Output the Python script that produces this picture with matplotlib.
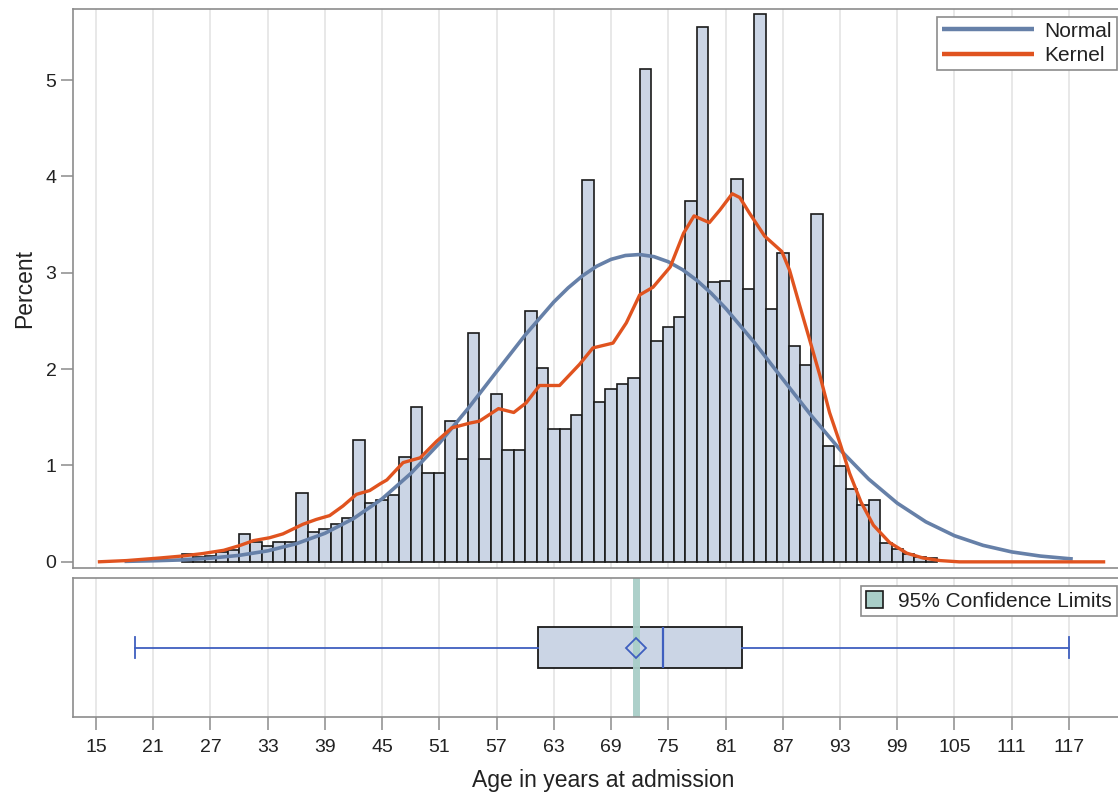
import numpy as np
import matplotlib
matplotlib.use("Agg")
import matplotlib.pyplot as plt
from matplotlib.patches import Patch

plt.rcParams['font.family'] = ['Liberation Sans', 'DejaVu Sans']

# histogram: percent of admissions per 1.2-year bin, first bin starts at 24.0
bin_start = 24.0
bin_width = 1.2
pct = [0.08, 0.05, 0.06, 0.10, 0.12, 0.29, 0.21, 0.16, 0.21, 0.21,
       0.71, 0.31, 0.34, 0.39, 0.46, 1.26, 0.61,
       0.64, 0.69, 1.09, 1.61, 0.92, 0.92, 1.46, 1.07, 2.37, 1.07,
       1.74, 1.16, 1.16, 2.60, 2.01, 1.38, 1.38,
       1.52, 3.96, 1.66, 1.79, 1.85, 1.91, 5.11, 2.29, 2.44, 2.54,
       3.74, 5.55, 2.90, 2.91, 3.97, 2.83, 5.68, 2.62, 3.21, 2.24, 2.04, 3.61,
       1.20, 0.99, 0.76, 0.59, 0.64, 0.20, 0.13, 0.08, 0.05, 0.04]

# fitted normal curve (percent scale)
normal_age = [18, 21, 24, 27, 30, 33, 36, 39, 42, 45, 48, 51, 54, 57, 60, 63,
              64.5, 66, 67.5, 69, 70.5, 72, 73.5, 75, 76.5, 78, 79.5, 81, 84,
              87, 90, 93, 96, 99, 102, 105, 108, 111, 114, 117, 117.4]
normal_pct = [0.005, 0.011, 0.020, 0.038, 0.067, 0.114, 0.188, 0.296, 0.449,
              0.654, 0.916, 1.231, 1.590, 1.974, 2.354, 2.697, 2.843, 2.968,
              3.068, 3.139, 3.179, 3.189, 3.167, 3.114, 3.031, 2.921, 2.787,
              2.632, 2.279, 1.896, 1.516, 1.164, 0.859, 0.609, 0.415, 0.271,
              0.171, 0.103, 0.060, 0.033, 0.030]

# kernel density estimate (percent scale)
kernel_age = [15.2, 18.2, 21.7, 24.0, 26.2, 28.4, 30.1, 31.5, 33.2, 34.6,
              36.7, 38.1, 39.5, 40.9, 42.3, 43.7, 44.8, 45.5, 47.2, 49.0,
              50.7, 52.3, 54.2, 55.2, 57.2, 58.8, 60.1, 61.5, 63.6, 65.7,
              67.1, 69.2, 70.6, 72.0, 73.4, 75.2, 76.6, 77.7, 79.3, 80.4,
              81.7, 82.5, 83.5, 85.1, 86.9, 87.7, 88.8, 89.8, 90.9, 91.9,
              93.0, 94.0, 95.2, 96.5, 98.2, 100.0, 101.7, 103.5, 105.5, 120.8]
kernel_pct = [0.0, 0.013, 0.04, 0.06, 0.086, 0.12, 0.17, 0.22, 0.25, 0.29,
              0.39, 0.44, 0.48, 0.58, 0.70, 0.74, 0.81, 0.85, 1.03, 1.08,
              1.25, 1.39, 1.44, 1.46, 1.59, 1.55, 1.65, 1.83, 1.83, 2.05,
              2.22, 2.27, 2.48, 2.77, 2.85, 3.06, 3.41, 3.59, 3.52, 3.65,
              3.82, 3.78, 3.62, 3.38, 3.22, 3.03, 2.65, 2.31, 1.93, 1.55,
              1.23, 0.92, 0.62, 0.38, 0.20, 0.09, 0.04, 0.013, 0.0, 0.0]

# box plot summary
age_min, age_q1, age_median, age_q3, age_max = 19.1, 61.3, 74.4, 82.7, 117.0
age_mean = 71.6
mean_ci = (71.25, 72.05)

xticks = list(range(15, 118, 6))

bar_face = '#cbd5e5'
edge_dark = '#1a1a1a'
normal_col = '#6680a8'
kernel_col = '#e0531f'
box_blue = '#3f5fbf'
ci_col = '#a9cec8'
grid_col = '#e4e4e4'
spine_col = '#8c8c8c'
text_col = '#222222'

W, H = 1118, 794
fig = plt.figure(figsize=(W / 100, H / 100), dpi=100)

left, right = 73.3, 1124.5
ax1 = fig.add_axes([left / W, 1 - 568.3 / H, (right - left) / W, (568.3 - 9) / H])
ax2 = fig.add_axes([left / W, 1 - 716.7 / H, (right - left) / W, (716.7 - 578.3) / H])

xlim = (12.63, 122.82)

# --- histogram panel ---
x_left = bin_start + bin_width * np.arange(len(pct))
ax1.bar(x_left, pct, width=bin_width, align='edge', color=bar_face,
        edgecolor=edge_dark, linewidth=1.2, zorder=2)
ax1.plot(normal_age, normal_pct, color=normal_col, lw=2.6, zorder=3,
         label='Normal', solid_capstyle='butt')
ax1.plot(kernel_age, kernel_pct, color=kernel_col, lw=2.4, zorder=4,
         label='Kernel', solid_capstyle='butt')

ax1.set_xlim(*xlim)
ax1.set_ylim(-0.067, 5.737)
ax1.set_xticks(xticks)
ax1.set_yticks(range(6))
ax1.tick_params(axis='x', bottom=False, labelbottom=False)
ax1.tick_params(axis='y', length=8.5, width=1.1, color=spine_col, pad=3.6,
                labelsize=14, labelcolor=text_col)
ax1.grid(axis='x', color=grid_col, linewidth=1.2, zorder=0)
ax1.set_axisbelow(True)
ax1.set_ylabel('Percent', fontsize=16.5, color=text_col)
ax1.yaxis.set_label_coords(-0.0355, 0.5)

leg1 = ax1.legend(loc='upper right', fontsize=15, frameon=True, fancybox=False,
                  framealpha=1, edgecolor=spine_col, borderaxespad=0.36,
                  handlelength=4.4, handletextpad=0.5, borderpad=0.25,
                  labelspacing=0.25)
leg1.get_frame().set_linewidth(1.2)
for t in leg1.get_texts():
    t.set_color(text_col)
for line in leg1.get_lines():
    line.set_linewidth(3.2)

# --- box plot panel ---
stats = [{'whislo': age_min, 'q1': age_q1, 'med': age_median, 'q3': age_q3,
          'whishi': age_max, 'mean': age_mean, 'fliers': []}]
ax2.bxp(stats, positions=[0.5], widths=0.30, capwidths=0.15,
        orientation='horizontal', patch_artist=True, showmeans=True,
        boxprops=dict(facecolor=bar_face, edgecolor=edge_dark, linewidth=1.3),
        whiskerprops=dict(color=box_blue, linewidth=1.3),
        capprops=dict(color=box_blue, linewidth=1.3),
        medianprops=dict(color=box_blue, linewidth=1.6),
        meanprops=dict(marker='D', markerfacecolor='none',
                       markeredgecolor=box_blue, markersize=10,
                       markeredgewidth=1.3, zorder=5))
ax2.axvspan(*mean_ci, color=ci_col, alpha=0.95, zorder=2.5, lw=0)

ax2.set_xlim(*xlim)
ax2.set_ylim(0, 1)
ax2.set_yticks([])
ax2.set_xticks(xticks)
ax2.tick_params(axis='x', length=9.4, width=1.1, color=spine_col, pad=6.5,
                labelsize=14, labelcolor=text_col)
ax2.grid(axis='x', color=grid_col, linewidth=1.2, zorder=0)
ax2.set_axisbelow(True)
ax2.set_xlabel('Age in years at admission', fontsize=16.5, color=text_col)
ax2.xaxis.set_label_coords(0.504, -0.375)

leg2 = ax2.legend(handles=[Patch(facecolor=ci_col, edgecolor=edge_dark,
                                 linewidth=1.2)],
                  labels=['95% Confidence Limits'], loc='upper right',
                  fontsize=15, frameon=True, fancybox=False, framealpha=1,
                  edgecolor=spine_col, borderaxespad=0.36, handlelength=0.85,
                  handleheight=0.85, handletextpad=0.7, borderpad=0.25)
leg2.get_frame().set_linewidth(1.2)
for t in leg2.get_texts():
    t.set_color(text_col)

for ax in (ax1, ax2):
    for s in ax.spines.values():
        s.set_color(spine_col)
        s.set_linewidth(1.2)

fig.savefig('out.png', dpi=100)
